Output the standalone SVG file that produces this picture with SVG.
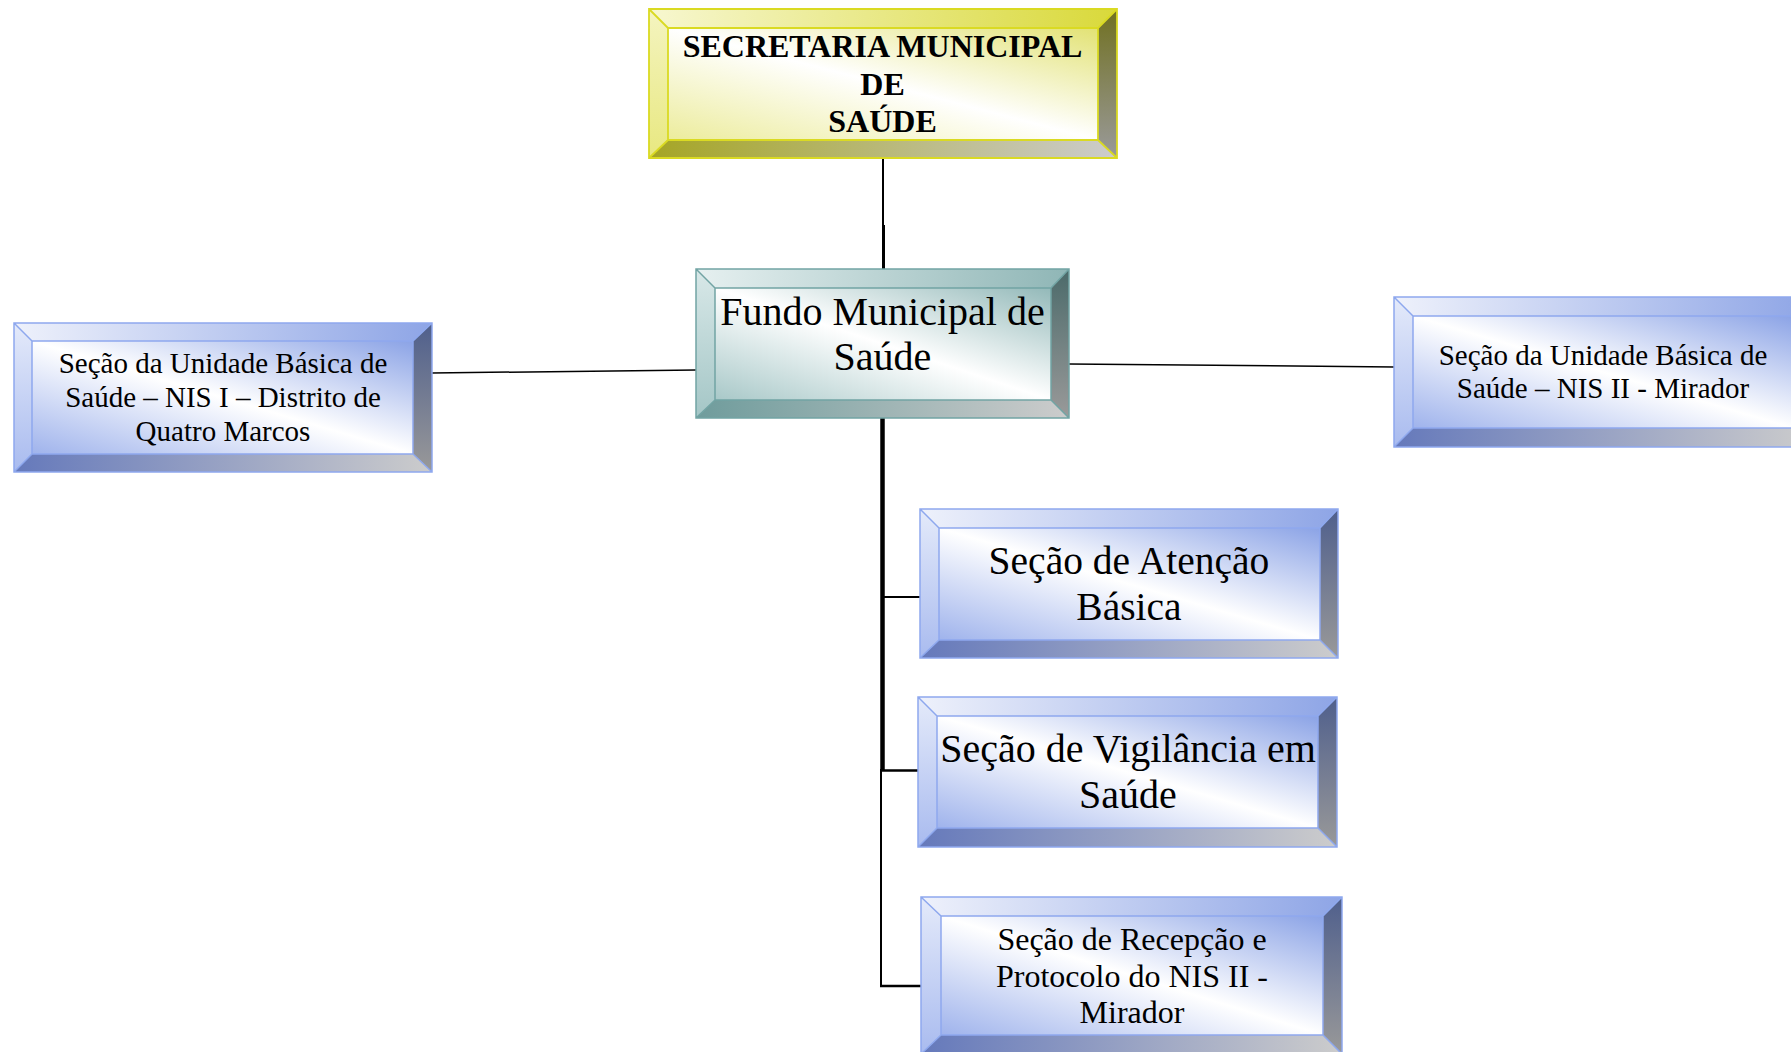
<svg xmlns="http://www.w3.org/2000/svg" width="1791" height="1052" viewBox="0 0 1791 1052">
<defs>
<!-- blue -->
<linearGradient id="bFace" x1="1" y1="0" x2="0" y2="1"><stop offset="0" stop-color="#8ba3e6"/><stop offset="0.5" stop-color="#ffffff"/><stop offset="1" stop-color="#9fb3ec"/></linearGradient>
<linearGradient id="bTop" x1="0" y1="0" x2="1" y2="0"><stop offset="0" stop-color="#eef1fb"/><stop offset="1" stop-color="#8ea5e6"/></linearGradient>
<linearGradient id="bLeft" x1="0" y1="0" x2="0" y2="1"><stop offset="0" stop-color="#e4eafa"/><stop offset="1" stop-color="#a9bbef"/></linearGradient>
<linearGradient id="bRight" x1="0" y1="0" x2="0" y2="1"><stop offset="0" stop-color="#4f5f8c"/><stop offset="1" stop-color="#999999"/></linearGradient>
<linearGradient id="bBot" x1="0" y1="0" x2="1" y2="0"><stop offset="0" stop-color="#6579bb"/><stop offset="1" stop-color="#cccccc"/></linearGradient>
<!-- yellow -->
<linearGradient id="yFace" x1="1" y1="0" x2="0" y2="1"><stop offset="0" stop-color="#e2e274"/><stop offset="0.5" stop-color="#ffffff"/><stop offset="1" stop-color="#ecec9c"/></linearGradient>
<linearGradient id="yTop" x1="0" y1="0" x2="1" y2="0"><stop offset="0" stop-color="#f7f7d0"/><stop offset="1" stop-color="#d9d93a"/></linearGradient>
<linearGradient id="yLeft" x1="0" y1="0" x2="0" y2="1"><stop offset="0" stop-color="#f4f4c0"/><stop offset="1" stop-color="#e8e880"/></linearGradient>
<linearGradient id="yRight" x1="0" y1="0" x2="0" y2="1"><stop offset="0" stop-color="#707020"/><stop offset="1" stop-color="#9a9a9a"/></linearGradient>
<linearGradient id="yBot" x1="0" y1="0" x2="1" y2="0"><stop offset="0" stop-color="#a5a525"/><stop offset="1" stop-color="#cccccc"/></linearGradient>
<!-- teal -->
<linearGradient id="tFace" x1="1" y1="0" x2="0" y2="1"><stop offset="0" stop-color="#93b9b9"/><stop offset="0.5" stop-color="#ffffff"/><stop offset="1" stop-color="#a8c8c8"/></linearGradient>
<linearGradient id="tTop" x1="0" y1="0" x2="1" y2="0"><stop offset="0" stop-color="#e6f0f0"/><stop offset="1" stop-color="#8fb6b6"/></linearGradient>
<linearGradient id="tLeft" x1="0" y1="0" x2="0" y2="1"><stop offset="0" stop-color="#d8e8e8"/><stop offset="1" stop-color="#a4c6c6"/></linearGradient>
<linearGradient id="tRight" x1="0" y1="0" x2="0" y2="1"><stop offset="0" stop-color="#4b6a6a"/><stop offset="1" stop-color="#9a9a9a"/></linearGradient>
<linearGradient id="tBot" x1="0" y1="0" x2="1" y2="0"><stop offset="0" stop-color="#6f9c9c"/><stop offset="1" stop-color="#cccccc"/></linearGradient>
</defs>
<style>
.b .face{fill:url(#bFace)} .b .top{fill:url(#bTop)} .b .left{fill:url(#bLeft)} .b .right{fill:url(#bRight)} .b .bot{fill:url(#bBot)}
.b .ol{fill:none;stroke:#8ea8ee;stroke-width:1.5}
.y .face{fill:url(#yFace)} .y .top{fill:url(#yTop)} .y .left{fill:url(#yLeft)} .y .right{fill:url(#yRight)} .y .bot{fill:url(#yBot)}
.y .ol{fill:none;stroke:#dada22;stroke-width:1.8}
.t .face{fill:url(#tFace)} .t .top{fill:url(#tTop)} .t .left{fill:url(#tLeft)} .t .right{fill:url(#tRight)} .t .bot{fill:url(#tBot)}
.t .ol{fill:none;stroke:#72a4a4;stroke-width:1.5}
text{font-family:"Liberation Serif","Times New Roman",serif;fill:#000;text-anchor:middle}
.conn line{stroke:#000;stroke-linecap:butt}
</style>
<rect width="1791" height="1052" fill="#ffffff"/>

<g id="connectors" class="conn">
<line x1="883" y1="158" x2="883" y2="226" stroke-width="2"/>
<line x1="883.5" y1="225" x2="883.5" y2="269" stroke-width="3"/>
<line x1="882.5" y1="418" x2="882.5" y2="771" stroke-width="4.5"/>
<line x1="881" y1="769" x2="881" y2="987" stroke-width="2"/>
<line x1="882" y1="597" x2="920" y2="597" stroke-width="2"/>
<line x1="882" y1="770.5" x2="918" y2="770.5" stroke-width="2.5"/>
<line x1="880" y1="986" x2="921" y2="986" stroke-width="2.5"/>
<line x1="432" y1="373" x2="696" y2="370" stroke-width="1.5"/>
<line x1="1069" y1="364" x2="1394" y2="367" stroke-width="1.5"/>
</g>

<g id="secretaria" class="y">
<polygon class="top" points="649,9 1117,9 1098,28 668,28"/>
<polygon class="left" points="649,9 668,28 668,140 649,158"/>
<polygon class="right" points="1117,9 1117,158 1098,140 1098,28"/>
<polygon class="bot" points="649,158 668,140 1098,140 1117,158"/>
<rect class="face" x="668" y="28" width="430" height="112"/>
<path class="ol" d="M649,9H1117V158H649Z M668,28H1098V140H668Z M649,9L668,28 M1117,9L1098,28 M649,158L668,140 M1117,158L1098,140"/>
<text font-weight="bold" font-size="32"><tspan x="882.5" y="57">SECRETARIA MUNICIPAL</tspan><tspan x="882.5" y="94.5">DE</tspan><tspan x="882.5" y="132">SAÚDE</tspan></text>
</g>

<g id="fundo" class="t">
<polygon class="top" points="696,269 1069,269 1051,288 715,288"/>
<polygon class="left" points="696,269 715,288 715,400 696,418"/>
<polygon class="right" points="1069,269 1069,418 1051,400 1051,288"/>
<polygon class="bot" points="696,418 715,400 1051,400 1069,418"/>
<rect class="face" x="715" y="288" width="336" height="112"/>
<path class="ol" d="M696,269H1069V418H696Z M715,288H1051V400H715Z M696,269L715,288 M1069,269L1051,288 M696,418L715,400 M1069,418L1051,400"/>
<text font-size="40"><tspan x="882.5" y="325">Fundo Municipal de</tspan><tspan x="882.5" y="370">Saúde</tspan></text>
</g>

<g id="nis1" class="b">
<polygon class="top" points="14,323 432,323 413,341 32,341"/>
<polygon class="left" points="14,323 32,341 32,454 14,472"/>
<polygon class="right" points="432,323 432,472 413,454 413,341"/>
<polygon class="bot" points="14,472 32,454 413,454 432,472"/>
<rect class="face" x="32" y="341" width="381" height="113"/>
<path class="ol" d="M14,323H432V472H14Z M32,341H413V454H32Z M14,323L32,341 M432,323L413,341 M14,472L32,454 M432,472L413,454"/>
<text font-size="29"><tspan x="223" y="373">Seção da Unidade Básica de</tspan><tspan x="223" y="407">Saúde – NIS I – Distrito de</tspan><tspan x="223" y="440.5">Quatro Marcos</tspan></text>
</g>

<g id="nis2" class="b">
<polygon class="top" points="1394,297 1812,297 1793,316 1413,316"/>
<polygon class="left" points="1394,297 1413,316 1413,428 1394,447"/>
<polygon class="right" points="1812,297 1812,447 1793,428 1793,316"/>
<polygon class="bot" points="1394,447 1413,428 1793,428 1812,447"/>
<rect class="face" x="1413" y="316" width="380" height="112"/>
<path class="ol" d="M1394,297H1812V447H1394Z M1413,316H1793V428H1413Z M1394,297L1413,316 M1394,447L1413,428"/>
<text font-size="29"><tspan x="1603" y="365">Seção da Unidade Básica de</tspan><tspan x="1603" y="398">Saúde – NIS II - Mirador</tspan></text>
</g>

<g id="atencao" class="b">
<polygon class="top" points="920,509 1338,509 1320,528 939,528"/>
<polygon class="left" points="920,509 939,528 939,640 920,658"/>
<polygon class="right" points="1338,509 1338,658 1320,640 1320,528"/>
<polygon class="bot" points="920,658 939,640 1320,640 1338,658"/>
<rect class="face" x="939" y="528" width="381" height="112"/>
<path class="ol" d="M920,509H1338V658H920Z M939,528H1320V640H939Z M920,509L939,528 M1338,509L1320,528 M920,658L939,640 M1338,658L1320,640"/>
<text font-size="39.5"><tspan x="1129" y="574">Seção de Atenção</tspan><tspan x="1129" y="619.5">Básica</tspan></text>
</g>

<g id="vigilancia" class="b">
<polygon class="top" points="918,697 1337,697 1318,716 937,716"/>
<polygon class="left" points="918,697 937,716 937,828 918,847"/>
<polygon class="right" points="1337,697 1337,847 1318,828 1318,716"/>
<polygon class="bot" points="918,847 937,828 1318,828 1337,847"/>
<rect class="face" x="937" y="716" width="381" height="112"/>
<path class="ol" d="M918,697H1337V847H918Z M937,716H1318V828H937Z M918,697L937,716 M1337,697L1318,716 M918,847L937,828 M1337,847L1318,828"/>
<text font-size="40"><tspan x="1128" y="762">Seção de Vigilância em</tspan><tspan x="1128" y="808">Saúde</tspan></text>
</g>

<g id="recepcao" class="b">
<polygon class="top" points="921,897 1342,897 1323,916 941,916"/>
<polygon class="left" points="921,897 941,916 941,1035 921,1054"/>
<polygon class="right" points="1342,897 1342,1054 1323,1035 1323,916"/>
<polygon class="bot" points="921,1054 941,1035 1323,1035 1342,1054"/>
<rect class="face" x="941" y="916" width="382" height="119"/>
<path class="ol" d="M921,897H1342V1054H921Z M941,916H1323V1035H941Z M921,897L941,916 M1342,897L1323,916 M921,1054L941,1035 M1342,1054L1323,1035"/>
<text font-size="32"><tspan x="1132" y="950">Seção de Recepção e</tspan><tspan x="1132" y="986.5">Protocolo do NIS II -</tspan><tspan x="1132" y="1023">Mirador</tspan></text>
</g>
</svg>
